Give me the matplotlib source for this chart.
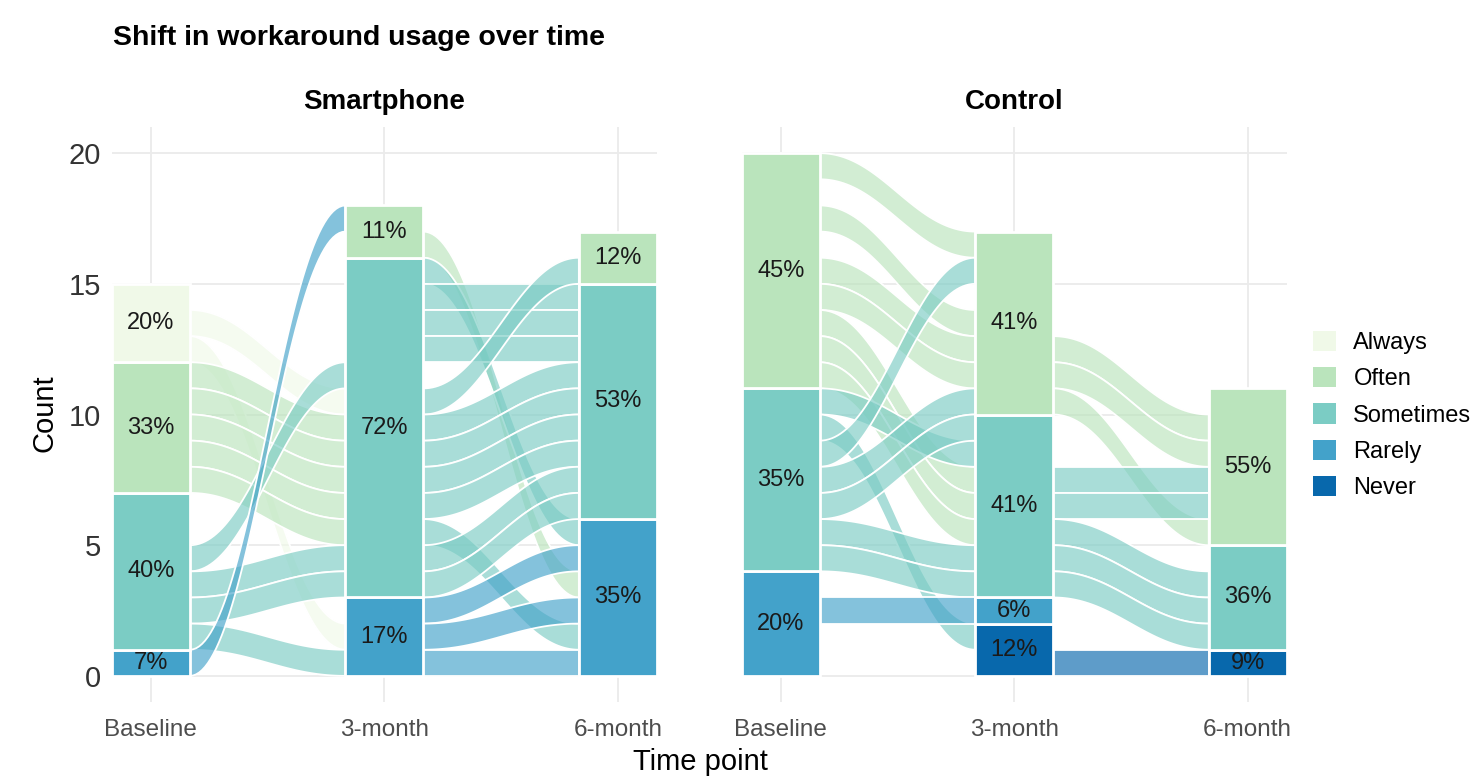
import numpy as np
import matplotlib.pyplot as plt
from matplotlib.patches import Polygon, Patch
from matplotlib.colors import to_rgba

plt.rcParams['font.family'] = ['Liberation Sans', 'DejaVu Sans']

levels = ["Always", "Often", "Sometimes", "Rarely", "Never"]
fills = ["#f0f9e8", "#bae4bc", "#7bccc4", "#43a2ca", "#0868ac"]
timepoints = ["Baseline", "3-month", "6-month"]
groups = ["Smartphone", "Control"]

# respondents per answer at each time point (Always ... Never)
smart_baseline = [3, 5, 6, 1, 0]
smart_3m = [0, 2, 13, 3, 0]
smart_6m = [0, 2, 9, 6, 0]
control_baseline = [0, 9, 7, 4, 0]
control_3m = [0, 7, 7, 1, 2]
control_6m = [0, 6, 4, 0, 1]

# one row per respondent seen at both time points:
# (answer before, answer after, stack slot before, stack slot after)
smart_b_3m = [
    ("Always", "Sometimes", 13, 10),
    ("Always", "Rarely", 12, 1),
    ("Often", "Sometimes", 11, 9),
    ("Often", "Sometimes", 10, 8),
    ("Often", "Sometimes", 9, 7),
    ("Often", "Sometimes", 8, 6),
    ("Often", "Sometimes", 7, 5),
    ("Sometimes", "Sometimes", 4, 11),
    ("Sometimes", "Sometimes", 3, 4),
    ("Sometimes", "Sometimes", 2, 3),
    ("Sometimes", "Rarely", 1, 0),
    ("Rarely", "Often", 0, 17),
]
smart_3m_6m = [
    ("Often", "Rarely", 16, 3),
    ("Sometimes", "Rarely", 15, 5),
    ("Sometimes", "Sometimes", 14, 14),
    ("Sometimes", "Sometimes", 13, 13),
    ("Sometimes", "Sometimes", 12, 12),
    ("Sometimes", "Often", 10, 15),
    ("Sometimes", "Sometimes", 9, 11),
    ("Sometimes", "Sometimes", 8, 10),
    ("Sometimes", "Sometimes", 7, 9),
    ("Sometimes", "Sometimes", 6, 8),
    ("Sometimes", "Rarely", 5, 1),
    ("Sometimes", "Sometimes", 4, 7),
    ("Sometimes", "Sometimes", 3, 6),
    ("Rarely", "Rarely", 2, 4),
    ("Rarely", "Rarely", 1, 2),
    ("Rarely", "Rarely", 0, 0),
]
control_b_3m = [
    ("Often", "Often", 19, 16),
    ("Often", "Often", 17, 13),
    ("Often", "Often", 15, 12),
    ("Often", "Often", 14, 11),
    ("Often", "Sometimes", 13, 7),
    ("Often", "Sometimes", 12, 6),
    ("Often", "Sometimes", 11, 5),
    ("Sometimes", "Sometimes", 10, 8),
    ("Sometimes", "Never", 9, 1),
    ("Sometimes", "Often", 8, 15),
    ("Sometimes", "Often", 7, 10),
    ("Sometimes", "Sometimes", 6, 9),
    ("Sometimes", "Sometimes", 5, 4),
    ("Sometimes", "Sometimes", 4, 3),
    ("Rarely", "Rarely", 2, 2),
]
control_3m_6m = [
    ("Often", "Often", 12, 9),
    ("Often", "Often", 11, 8),
    ("Often", "Often", 10, 5),
    ("Sometimes", "Often", 7, 7),
    ("Sometimes", "Often", 6, 6),
    ("Sometimes", "Sometimes", 5, 3),
    ("Sometimes", "Sometimes", 4, 2),
    ("Sometimes", "Sometimes", 3, 1),
    ("Never", "Never", 0, 0),
]

panels = [
    ([smart_baseline, smart_3m, smart_6m], [smart_b_3m, smart_3m_6m]),
    ([control_baseline, control_3m, control_6m], [control_b_3m, control_3m_6m]),
]

W = 1 / 3  # stratum width
K = 0.4    # curve handle length


def flow_curve(x0, x1, y0, y1, n=60):
    t = np.linspace(0, 1, n)
    xs = (3 * (1 - t)**2 * t * K + 3 * (1 - t) * t**2 * (1 - K) + t**3)
    ys = 3 * (1 - t) * t**2 + t**3
    return x0 + (x1 - x0) * xs, y0 + (y1 - y0) * ys


fig = plt.figure(figsize=(14.72, 7.77), dpi=100)
ax_left = fig.add_axes([0.0761, 0.0965, 0.370, 0.740])
ax_right = fig.add_axes([0.504, 0.0965, 0.370, 0.740])

for ax, name, (counts, transitions) in zip([ax_left, ax_right], groups, panels):
    xpos = np.arange(1, len(timepoints) + 1)

    # flows between neighbouring time points
    for i, flows in enumerate(transitions):
        xa = xpos[i] + W / 2
        xb = xpos[i + 1] - W / 2
        for src, dst, s0, s1 in flows:
            cx, top = flow_curve(xa, xb, s0 + 1, s1 + 1)
            _, bot = flow_curve(xa, xb, s0, s1)
            pts = np.column_stack([np.r_[cx, cx[::-1]], np.r_[top, bot[::-1]]])
            ax.add_patch(Polygon(pts, closed=True,
                                 facecolor=to_rgba(fills[levels.index(src)], 0.65),
                                 edgecolor='white', linewidth=1.3, zorder=2))

    # strata
    for i, cnt in enumerate(counts):
        total = sum(cnt)
        bottom = 0
        for j in range(len(levels) - 1, -1, -1):
            n = cnt[j]
            if n == 0:
                continue
            ax.bar(xpos[i], n, bottom=bottom, width=W, color=fills[j],
                   edgecolor='white', linewidth=2, zorder=3)
            ax.text(xpos[i], bottom + n / 2, "%d%%" % round(100 * n / total),
                    ha='center', va='center', fontsize=17, color='#1a1a1a', zorder=4)
            bottom += n

    ax.set_xlim(1 - W / 2, 3 + W / 2)
    ax.set_ylim(-1, 21)
    ax.set_xticks(xpos)
    ax.set_xticklabels(timepoints)
    ax.set_yticks([0, 5, 10, 15, 20])
    ax.grid(color='#ebebeb', linewidth=1.3)
    ax.set_axisbelow(True)
    for sp in ax.spines.values():
        sp.set_visible(False)
    ax.tick_params(axis='x', length=0, pad=12, labelsize=17.5, labelcolor='#4d4d4d')
    ax.tick_params(axis='y', length=0, pad=8, labelsize=21, labelcolor='#333333')
    ax.set_title(name, fontsize=20, fontweight='bold', pad=13)

ax_right.set_yticklabels([])

fig.text(113 / 1472, 1 - 38 / 777, "Shift in workaround usage over time",
         fontsize=20.5, fontweight='bold', ha='left', va='center')
fig.text(45 / 1472, 1 - 413 / 777, "Count", fontsize=21, rotation=90,
         ha='center', va='center')
fig.text(700 / 1472, 1 - 762 / 777, "Time point", fontsize=21,
         ha='center', va='center')

handles = [Patch(facecolor=c, edgecolor='none') for c in fills]
fig.legend(handles, levels, loc='center left', bbox_to_anchor=(1292 / 1472, 1 - 415 / 777),
           frameon=False, fontsize=17, handlelength=0.95, handleheight=0.95,
           handletextpad=0.75, labelspacing=0.55)

fig.savefig("out.png", dpi=100)
